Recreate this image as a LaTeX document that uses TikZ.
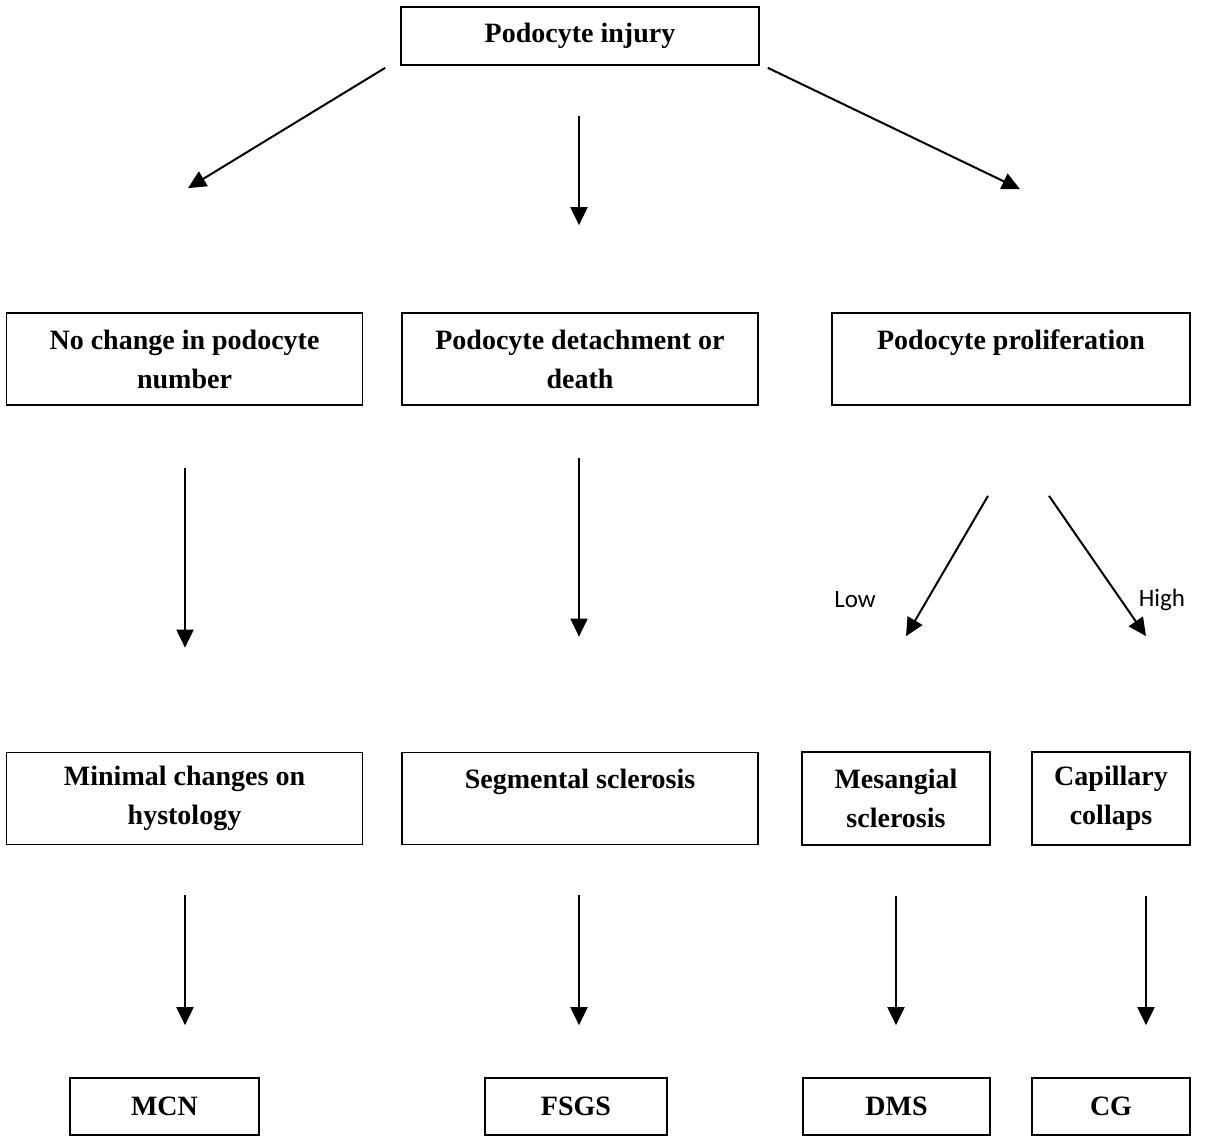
\documentclass[tikz,border=0pt]{standalone}
\usepackage{fontspec}
\setmainfont{Liberation Serif}
\newfontfamily\lblfont{Carlito}
\usetikzlibrary{arrows.meta,scopes}

\begin{document}
\begin{tikzpicture}[
    x=1pt,y=-1pt,
    box/.style={draw=black,line width=1.7pt,align=center,inner sep=0pt,
        font=\fontsize{28}{39}\selectfont\bfseries},
    wide/.style={box,minimum width=356pt,minimum height=92pt},
    flow/.style={>={Triangle[length=18pt,width=17pt]},draw=black,line width=2pt},
    lbl/.style={font=\lblfont\fontsize{25}{28}\selectfont},
]
    \useasboundingbox (0,0) rectangle (1221,1137);
    \node[box,minimum width=358pt,minimum height=58pt] (inj) at (580,36) {Podocyte injury};

    \node[wide] (nc) at (184.5,359) {No change in podocyte\\number};
    \node[wide] (det) at (580,359) {Podocyte detachment or\\death};
    \node[wide,minimum width=358pt] (pro) at (1011,359) {Podocyte proliferation\\ \mbox{}};

    \node[wide] (mc) at (184.5,798.5) {Minimal changes on\\hystology};
    \node[wide] (ss) at (580,798.5) {Segmental sclerosis\\ \mbox{}};
    \node[box,minimum width=188pt,minimum height=93pt] (ms) at (896,798.5) {Mesangial\\sclerosis};
    \node[box,minimum width=158pt,minimum height=93pt] (cc) at (1111,798.5) {Capillary\\collaps};

    \node[box,minimum width=189pt,minimum height=57pt] (mcn) at (164.5,1106.5) {MCN};
    \node[box,minimum width=182pt,minimum height=57pt] (fsgs) at (576,1106.5) {FSGS};
    \node[box,minimum width=187pt,minimum height=57pt] (dms) at (896.5,1106.5) {DMS};
    \node[box,minimum width=158pt,minimum height=57pt] (cg) at (1111,1106.5) {CG};

    \node[lbl] (low) at (855,600) {Low};
    \node[lbl] (high) at (1162,600) {High};

    {[flow,->]
        \draw ([shift={(-15,2)}]inj.south west) -- ([shift={(3.5,-124)}]nc.north);
        \draw ([shift={(-1,50)}]inj.south) -- ([shift={(-1,-87)}]det.north);
        \draw ([shift={(8,2)}]inj.south east) -- ([shift={(9,-123)}]pro.north);

        \draw ([shift={(0.5,62)}]nc.south) -- ([shift={(0.5,-104)}]mc.north);
        \draw ([shift={(-1,52)}]det.south) -- ([shift={(-1,-115)}]ss.north);
        \draw ([shift={(-23,90)}]pro.south) -- ([shift={(10,-115)}]ms.north);
        \draw ([shift={(38,90)}]pro.south) -- ([shift={(35,-115)}]cc.north);

        \draw ([shift={(0.5,50)}]mc.south) -- ([shift={(20.5,-52)}]mcn.north);
        \draw ([shift={(-1,50)}]ss.south) -- ([shift={(3,-52)}]fsgs.north);
        \draw ([shift={(0,50)}]ms.south) -- ([shift={(-0.5,-52)}]dms.north);
        \draw ([shift={(35,50)}]cc.south) -- ([shift={(35,-52)}]cg.north);
    }
\end{tikzpicture}
\end{document}
